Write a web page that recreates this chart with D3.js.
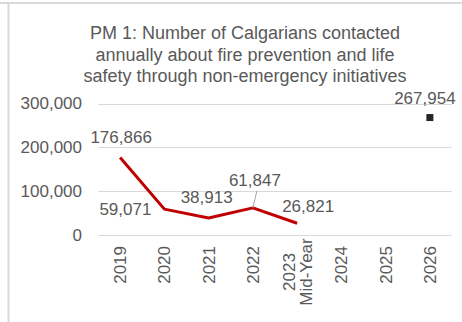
<!DOCTYPE html>
<html><head><meta charset="utf-8">
<script src="https://cdn.jsdelivr.net/npm/d3@7"></script>
<style>
html,body{margin:0;padding:0;background:#fff;}
svg{display:block;font-family:"Liberation Sans",Arial,sans-serif;}
</style></head>
<body>
<script>
const titleLines = ["PM 1: Number of Calgarians contacted","annually about fire prevention and life","safety through non-emergency initiatives"];
const categories = ["2019","2020","2021","2022","2023\nMid-Year","2024","2025","2026"];
const actualValues = [176866, 59071, 38913, 61847, 26821, null, null, null];
const targetValues = [null, null, null, null, null, null, null, 267954];
const yTicks = [0, 100000, 200000, 300000];
// label placement: [dx, dy] relative to point (layout)
const labelPlace = [[1,-14,"middle"],[-13,6,"end"],[-2,-15,"middle"],[2,-22,"middle"],[-15,-11,"start"],null,null,[-5,-14,"middle"]];

const W=462,H=322;
const svg=d3.select("body").append("svg").attr("width",W).attr("height",H);
const textCol="#595959";

// frame lines
svg.append("line").attr("x1",0).attr("x2",W).attr("y1",3).attr("y2",3).attr("stroke","#d9d9d9").attr("stroke-width",2);
svg.append("line").attr("x1",8.5).attr("x2",8.5).attr("y1",3).attr("y2",H).attr("stroke","#d9d9d9").attr("stroke-width",2);

// title
svg.append("g").selectAll("text").data(titleLines).join("text")
  .attr("x",245).attr("y",(d,i)=>39+i*21.5).attr("text-anchor","middle")
  .attr("font-size",18).attr("fill",textCol).text(d=>d);

const x=d3.scaleBand().domain(categories).range([98,452]).padding(0);
const y=d3.scaleLinear().domain([0,300000]).range([235,103.5]);

// gridlines
svg.append("g").selectAll("line").data(yTicks).join("line")
  .attr("x1",98).attr("x2",452).attr("y1",d=>Math.round(y(d))+0.5).attr("y2",d=>Math.round(y(d))+0.5)
  .attr("stroke","#d9d9d9").attr("stroke-width",1);

// y axis
const yAxis=d3.axisLeft(y).tickValues(yTicks).tickSize(0).tickPadding(0).tickFormat(d3.format(","));
const yg=svg.append("g").attr("transform","translate(82,0)").call(yAxis);
yg.select(".domain").remove();
yg.selectAll("text").attr("font-size",17).attr("fill",textCol).attr("font-family","Liberation Sans, Arial, sans-serif");

// x axis labels
const xAxis=d3.axisBottom(x).tickSize(0).tickFormat("");
const xg=svg.append("g").attr("transform","translate(0,235)").call(xAxis);
xg.select(".domain").remove();
categories.forEach(c=>{
  const lines=c.split("\n");
  const cx=x(c)+x.bandwidth()/2;
  const g=svg.append("g").attr("transform",`translate(${cx},${lines.length>1?272:246}) rotate(-90)`);
  lines.forEach((ln,i)=>{
    g.append("text").attr("x",0).attr("y",(i-(lines.length-1)/2)*17 + 6)
      .attr("text-anchor",lines.length>1?"middle":"end")
      .attr("font-size",17).attr("fill",textCol).text(ln);
  });
});

// actual line
const pts=categories.map((c,i)=>({c,v:actualValues[i],i})).filter(d=>d.v!=null);
const line=d3.line().x(d=>x(d.c)+x.bandwidth()/2).y(d=>y(d.v));
svg.append("path").datum(pts).attr("d",line).attr("fill","none").attr("stroke","#c00000").attr("stroke-width",3).attr("stroke-linejoin","round");

// target marker
const tpts=categories.map((c,i)=>({c,v:targetValues[i],i})).filter(d=>d.v!=null);
svg.append("g").selectAll("rect").data(tpts).join("rect")
  .attr("x",d=>x(d.c)+x.bandwidth()/2-3.5).attr("y",d=>y(d.v)-3.5).attr("width",7).attr("height",7).attr("fill","#262626");

// labels
const fmt=d3.format(",");
const allPts=pts.concat(tpts);
allPts.forEach(d=>{
  const p=labelPlace[d.i];
  const px=x(d.c)+x.bandwidth()/2, py=y(d.v);
  svg.append("text").attr("x",px+p[0]).attr("y",py+p[1]).attr("text-anchor",p[2])
    .attr("font-size",17).attr("fill",textCol).text(fmt(d.v));
});
// leader line for 2022
{
  const c=categories[3];
  const px=x(c)+x.bandwidth()/2, py=y(actualValues[3]);
  svg.append("line").attr("x1",px).attr("y1",py).attr("x2",px+4).attr("y2",py-17).attr("stroke","#a6a6a6").attr("stroke-width",1);
}
</script>
</body></html>
